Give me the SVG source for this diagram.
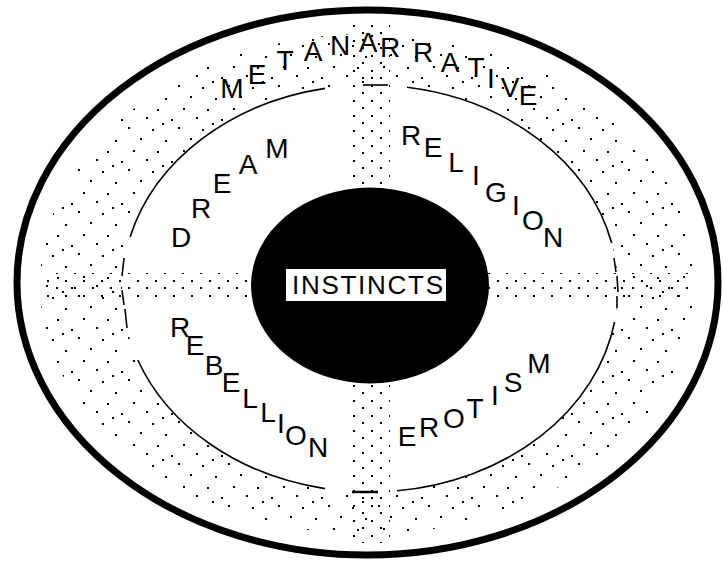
<svg xmlns="http://www.w3.org/2000/svg" width="723" height="562" viewBox="0 0 723 562">
  <style>
    .lbl { font-family: "Liberation Sans", Arial, sans-serif; font-size: 28px; fill: #000; text-anchor: middle; }
    .thin { fill: none; stroke: #000; stroke-width: 1.6; }
  </style>
  <defs>
    <pattern id="ringDots" x="0" y="0" width="50" height="42" patternUnits="userSpaceOnUse">
      <rect x="2" y="3" width="2" height="2"/>
      <rect x="28" y="1" width="2" height="2"/>
      <rect x="15" y="14" width="2" height="2"/>
      <rect x="40" y="12" width="2" height="2"/>
      <rect x="7" y="25" width="2" height="2"/>
      <rect x="33" y="24" width="2" height="2"/>
      <rect x="21" y="35" width="2" height="2"/>
      <rect x="46" y="33" width="2" height="2"/>
      <rect x="12" y="39" width="2" height="2"/>
    </pattern>
    <pattern id="bandDots" x="0" y="0" width="18" height="15" patternUnits="userSpaceOnUse">
      <rect x="2" y="2" width="2" height="2"/>
      <rect x="11" y="10" width="2" height="2"/>
    </pattern>
  </defs>
  <rect width="723" height="562" fill="#fff"/>

  <g id="stipple">
    <path fill="url(#ringDots)" fill-rule="evenodd" d="M40,284 a327.5,250 0 1,0 655,0 a327.5,250 0 1,0 -655,0 Z M122,288.5 a248,203.5 0 1,0 496,0 a248,203.5 0 1,0 -496,0 Z"/>
    <rect x="350" y="22" width="40" height="166" fill="url(#bandDots)"/>
    <rect x="346" y="383" width="44" height="160" fill="url(#bandDots)"/>
    <rect x="44" y="273" width="208" height="24" fill="url(#bandDots)"/>
    <rect x="488" y="273" width="200" height="24" fill="url(#bandDots)"/>
  </g>

  <g id="outer-ring">
    <ellipse cx="367.5" cy="282.5" rx="350.5" ry="272.5" fill="none" stroke="#000" stroke-width="7"/>
  </g>

  <g id="inner-ring">
    <path class="thin" d="M407,87.3 A248,203.5 0 0,1 611.7,243"/>
    <path class="thin" d="M614.6,322 A248,203.5 0 0,1 397,490.8"/>
    <path class="thin" d="M325,488.6 A248,203.5 0 0,1 137.8,360"/>
    <path class="thin" d="M130.1,237 A248,203.5 0 0,1 325,88.4"/>
    <line class="thin" x1="363" y1="85" x2="388" y2="85"/>
    <line x1="352" y1="492" x2="378" y2="492" stroke="#000" stroke-width="2.5"/>
    <path class="thin" d="M124,258 L122,276 M122,290 L124,305 M125,309 L127,328"/>
    <path class="thin" d="M614,258 L616,272 M617,276 L618,292 M617,296 L617,308"/>
  </g>

  <g id="instincts">
    <ellipse cx="370" cy="285.5" rx="119" ry="98" fill="#000"/>
    <rect x="285.5" y="268.5" width="161" height="33" fill="#fff" stroke="#000" stroke-width="1"/>
    <text x="292" y="294" font-family="'Liberation Sans', Arial, sans-serif" font-size="26" textLength="151" lengthAdjust="spacing">INSTINCTS</text>
  </g>

  <g id="metanarrative">
    <text class="lbl" x="232 257 285 313 340 368 390 423 450 476 491 510 528" y="98 84 70 61 55 52 57 62 72 77 88 97 105">METANARRATIVE</text>
  </g>
  <g id="dream">
    <text class="lbl" x="181 201 222 248 277" y="247 218 193 174 158">DREAM</text>
  </g>
  <g id="religion">
    <text class="lbl" x="411 433 456 476 496 516 533 553" y="145 157 172 185 202 215 230 247">RELIGION</text>
  </g>
  <g id="rebellion">
    <text class="lbl" x="180 195 214 231 250 268 281 296 318" y="337 355 375 392 408 422 433 445 457">REBELLION</text>
  </g>
  <g id="erotism">
    <text class="lbl" x="407 429 454 475 495 513 539" y="446 437 428 418 405 392 373">EROTISM</text>
  </g>
</svg>
